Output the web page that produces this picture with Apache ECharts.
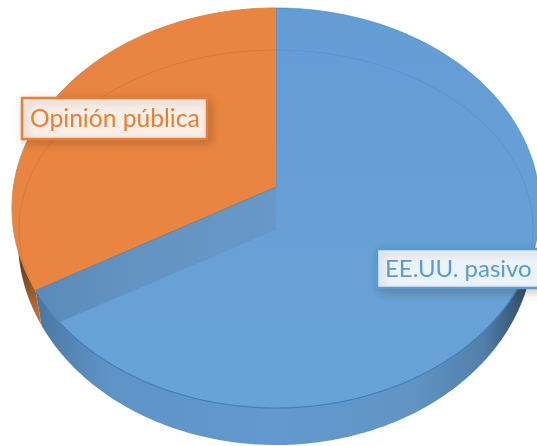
<!DOCTYPE html>
<html>
<head>
<meta charset="utf-8">
<style>html,body{margin:0;padding:0;background:#fff;overflow:hidden}#chart{width:537px;height:446px}</style>
<script src="https://cdn.jsdelivr.net/npm/echarts@6/dist/echarts.min.js"></script>
</head>
<body>
<div id="chart"></div>
<script>
// Two-slice tilted pie with a visible rim, drawn with a custom series.
const categories = ['EE.UU. pasivo', 'Opinión pública'];
const shares = [66, 34];

const total = shares.reduce((a, b) => a + b, 0);
const TAU = Math.PI * 2;

// Projection of the disc: rims and the two hub points on the cut faces.
const faceRim = { cx: 276, cy: 208, rx: 264, ry: 200 };
const baseRim = { cx: 276, cy: 240, rx: 258, ry: 205 };
const innerRim = { cx: 276, cy: 229, rx: 257, ry: 179 };
const hubTop = { x: 276, y: 187 };
const hubLow = { x: 276, y: 229 };
const tilt = { x: 264, y: 179 };

const LG = echarts.graphic.LinearGradient;
const across = (stops) => new LG(0, 0, 537, 0, stops.map(([offset, color]) => ({ offset, color })), true);

const rimPoint = (e, t) => [e.cx + e.rx * Math.sin(t), e.cy - e.ry * Math.cos(t)];
const rimParam = (e, p) => {
  const t = Math.atan2((p[0] - e.cx) / e.rx, -(p[1] - e.cy) / e.ry);
  return t < 0 ? t + TAU : t;
};
const arc = (e, from, to, n = 120) => {
  const pts = [];
  for (let i = 0; i <= n; i++) pts.push(rimPoint(e, from + (to - from) * i / n));
  return pts;
};
// Where a ray leaving a hub at pie angle phi meets a rim.
const rayHit = (hub, phi, e) => {
  const dx = tilt.x * Math.sin(phi), dy = -tilt.y * Math.cos(phi);
  const ox = (hub.x - e.cx) / e.rx, oy = (hub.y - e.cy) / e.ry;
  const ux = dx / e.rx, uy = dy / e.ry;
  const a = ux * ux + uy * uy, b = 2 * (ox * ux + oy * uy), c = ox * ox + oy * oy - 1;
  const s = (-b + Math.sqrt(b * b - 4 * a * c)) / (2 * a);
  return [hub.x + dx * s, hub.y + dy * s];
};
const xy = (h) => [h.x, h.y];

const cutAngle = TAU * shares[0] / total;
const P = rayHit(hubTop, cutAngle, faceRim);
const Q = rayHit(hubLow, cutAngle, faceRim);
const tP = rimParam(faceRim, P);
const tQ = rimParam(faceRim, Q);

// Foot of the rim below the cut, on the lower outline.
const footParam = Math.PI + Math.asin((baseRim.cx - (P[0] + 6)) / baseRim.rx);

function labelBox(x, y, w, h, text, main, fill, textX, textY, size) {
  return [
    {
      type: 'rect', silent: true,
      shape: { x, y, width: w, height: h },
      style: { fill, stroke: main, lineWidth: 2.5, shadowBlur: 9, shadowOffsetX: 3, shadowOffsetY: 3, shadowColor: 'rgba(70,50,30,0.26)' }
    },
    {
      type: 'text', silent: true,
      style: { text, x: textX, y: textY, fill: main, font: `400 ${size}px Lato`, textVerticalAlign: 'middle' }
    }
  ];
}

function drawBlue() {
  const wall = [...arc(baseRim, Math.PI / 2 - 0.1, footParam), P, xy(hubTop)];
  const face = [xy(hubLow), ...arc(faceRim, 0, tQ, 240)];
  const wedge = [xy(hubTop), P, ...arc(faceRim, tP, tQ, 20), xy(hubLow)];
  return [
    { type: 'polygon', silent: true, shape: { points: wall }, style: {
      fill: across([[0.06, '#47759f'], [0.12, '#5283b1'], [0.2, '#5f93c7'], [0.5, '#6299cf'], [0.76, '#6295c5'], [0.9, '#5180aa'], [0.98, '#324c66']]) } },
    { type: 'polygon', silent: true, shape: { points: face }, style: {
      fill: new LG(0, 8, 0, 408, [{ offset: 0, color: '#649dd6' }, { offset: 1, color: '#68a3d6' }], true) } },
    { type: 'polygon', silent: true, shape: { points: wedge }, style: {
      fill: across([[0.06, '#5a8ab8'], [0.25, '#6493c1'], [0.52, '#6898c7']]) } },
    { type: 'polyline', silent: true, shape: { points: arc(innerRim, 0, 1.9) }, style: { fill: 'none', stroke: 'rgba(66,128,190,0.35)', lineWidth: 1 } },
    { type: 'polyline', silent: true, shape: { points: arc(faceRim, 0, 1.9) }, style: { fill: 'none', stroke: 'rgba(64,128,192,0.6)', lineWidth: 1 } },
    { type: 'polyline', silent: true, shape: { points: arc(faceRim, 1.9, tQ, 200) }, style: { fill: 'none', stroke: '#4080c0', lineWidth: 1.2 } },
    { type: 'polyline', silent: true, shape: { points: [[hubLow.x, 8], xy(hubTop)] }, style: { fill: 'none', stroke: '#5a94d0', lineWidth: 1.5 } },
    { type: 'polyline', silent: true, shape: { points: [xy(hubLow), Q] }, style: { fill: 'none', stroke: '#5c99d4', lineWidth: 1 } },
    ...labelBox(377, 249, 170, 39, categories[0], '#5b9bd5', '#edf3fa', 385, 269, 24)
  ];
}

function drawOrange() {
  const wall = [...arc(baseRim, footParam, TAU - Math.PI / 2), P];
  const face = [xy(hubTop), P, ...arc(faceRim, tP, TAU, 160)];
  const innerStart = rayHit(hubTop, cutAngle, innerRim);
  return [
    { type: 'polygon', silent: true, shape: { points: wall }, style: {
      fill: new LG(20, 250, 44, 330, [{ offset: 0, color: '#4f3018' }, { offset: 0.5, color: '#94592a' }, { offset: 1, color: '#d5803f' }], true) } },
    { type: 'polygon', silent: true, shape: { points: face }, style: { fill: '#e98540' } },
    { type: 'polyline', silent: true, shape: { points: arc(innerRim, rimParam(innerRim, innerStart), TAU) }, style: { fill: 'none', stroke: 'rgba(214,108,44,0.55)', lineWidth: 1 } },
    { type: 'polyline', silent: true, shape: { points: arc(faceRim, tP, TAU, 160) }, style: { fill: 'none', stroke: '#e4803a', lineWidth: 1 } },
    { type: 'polyline', silent: true, shape: { points: [xy(hubTop), P] }, style: { fill: 'none', stroke: '#4f86bd', lineWidth: 1 } },
    ...labelBox(22, 98, 185, 41, categories[1], '#ed7d31', '#f9efe8', 30, 119, 24.6)
  ];
}

const chart = echarts.init(document.getElementById('chart'));
chart.setOption({
  animation: false,
  series: [{
    type: 'custom',
    coordinateSystem: 'none',
    silent: true,
    data: categories.map((name, i) => ({ name, value: shares[i] })),
    renderItem: (params) => ({
      type: 'group',
      children: params.dataIndex === 0 ? drawBlue() : drawOrange()
    })
  }]
});
</script>
</body>
</html>
